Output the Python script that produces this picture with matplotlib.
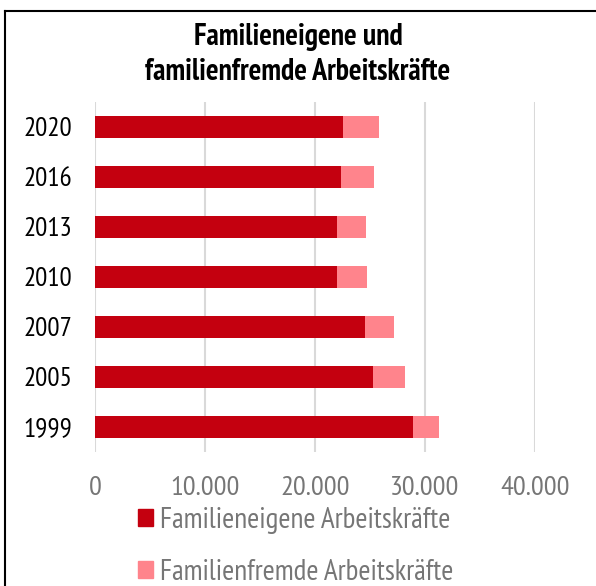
import matplotlib
matplotlib.use("Agg")
import matplotlib.pyplot as plt
import matplotlib.patches as mpatches
from matplotlib.lines import Line2D
import numpy as np

years = ["1999", "2005", "2007", "2010", "2013", "2016", "2020"]
familieneigene = [28900, 25300, 24500, 22000, 22000, 22400, 22500]
familienfremde = [2400, 2900, 2700, 2700, 2650, 3000, 3300]

dark_red = "#C4000F"
light_red = "#FF848C"
grey_text = "#767676"

plt.rcParams["font.family"] = ["PT Sans Narrow", "DejaVu Sans"]

fig = plt.figure(figsize=(5.96, 5.86), dpi=100)
ax = fig.add_axes([0.1594, 0.2287, 0.7383, 0.5973])

y = np.arange(len(years))
ax.barh(y, familieneigene, height=0.435, color=dark_red, zorder=3)
ax.barh(y, familienfremde, left=familieneigene, height=0.435, color=light_red, zorder=3)

ax.set_xlim(0, 40000)
ax.set_ylim(-0.5, len(years) - 0.5)
ax.set_xticks([0, 10000, 20000, 30000, 40000])
ax.set_xticklabels(["0", "10.000", "20.000", "30.000", "40.000"])
ax.set_yticks(y)
ax.set_yticklabels(years)
ax.tick_params(axis="x", length=0, pad=17.5, labelsize=20.5, labelcolor=grey_text)
ax.tick_params(axis="y", length=0, pad=16.5, labelsize=19.5, labelcolor="black")
ax.grid(axis="x", color="#d9d9d9", linewidth=1.5, zorder=0)
for s in ax.spines.values():
    s.set_visible(False)

fig.text(0.5, 0.96, "Familieneigene und\nfamilienfremde Arbeitskräfte",
         ha="center", va="top", fontsize=21.5, fontweight="bold",
         linespacing=1.3)

handles = [mpatches.Patch(color=dark_red, label="Familieneigene Arbeitskräfte"),
           mpatches.Patch(color=light_red, label="Familienfremde Arbeitskräfte")]
leg = fig.legend(handles=handles, loc="upper left", bbox_to_anchor=(0.232, 0.135),
                 frameon=False, fontsize=21, handlelength=0.5, handleheight=0.5,
                 handletextpad=0.25, labelspacing=0.85, borderpad=0, borderaxespad=0)
for t in leg.get_texts():
    t.set_color(grey_text)

# frame lines at top and left
fig.add_artist(Line2D([5 / 596, 1], [1 - 11 / 586, 1 - 11 / 586], color="black", linewidth=1.5))
fig.add_artist(Line2D([5 / 596, 5 / 596], [0, 1 - 11 / 586], color="black", linewidth=1.5))

fig.savefig("out.png", dpi=100)
